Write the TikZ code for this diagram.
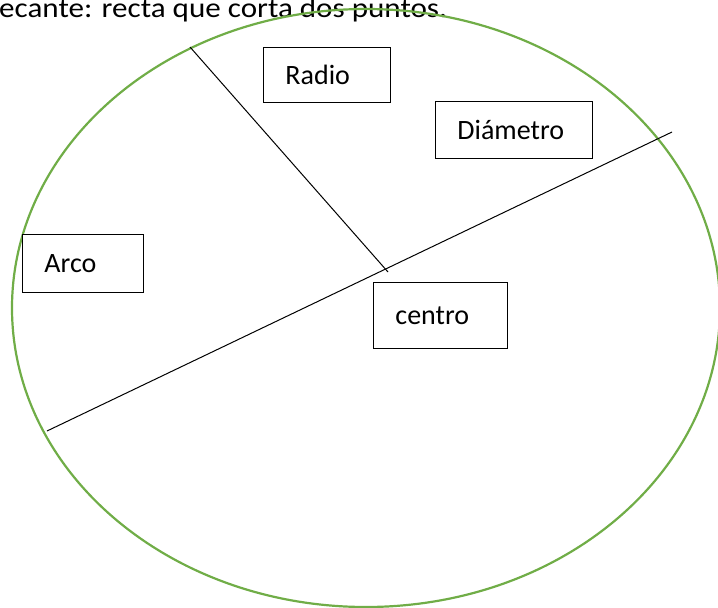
\documentclass[tikz,border=0pt]{standalone}
\usepackage{fontspec}
\setmainfont{Carlito}
\begin{document}
\begin{tikzpicture}[x=1pt,y=-1pt,
  box/.style={draw=black, line width=0.9pt, fill=white, rectangle, anchor=north west,
    inner xsep=22pt, inner ysep=0pt, align=left, font=\fontsize{28}{34}\selectfont},
  lbl/.style={inner sep=0pt, font=\fontsize{28}{34}\selectfont},
  circ/.style={draw={rgb,255:red,112;green,173;blue,71}, line width=2.2pt},
  seg/.style={draw=black, line width=1pt}]
\useasboundingbox (0,0) rectangle (718,608);
\begin{scope}
\clip (0,0) rectangle (718,608);
\node[lbl, anchor=base west] (title) at (-1,17) {\scalebox{1.11}[1]{ecante: recta que corta dos puntos.}};
\draw[circ] (366,308) ellipse [x radius=354, y radius=299];
\coordinate (rA) at (190,47);
\coordinate (rB) at (388,272);
\coordinate (dA) at (47,431);
\coordinate (dB) at (672,132);
\draw[seg] (rA) -- (rB);
\draw[seg] (dA) -- (dB);
\node[box, text width=83pt, minimum height=55pt] (radio) at (263,47) {Radio};
\node[box, text width=113pt, minimum height=57pt] (diam) at (435,101) {Diámetro};
\node[box, text width=77pt, minimum height=58pt] (arco) at (22,234) {Arco};
\node[box, text width=90pt, minimum height=66pt] (centro) at (373,282) {centro};
\end{scope}
\end{tikzpicture}
\end{document}
